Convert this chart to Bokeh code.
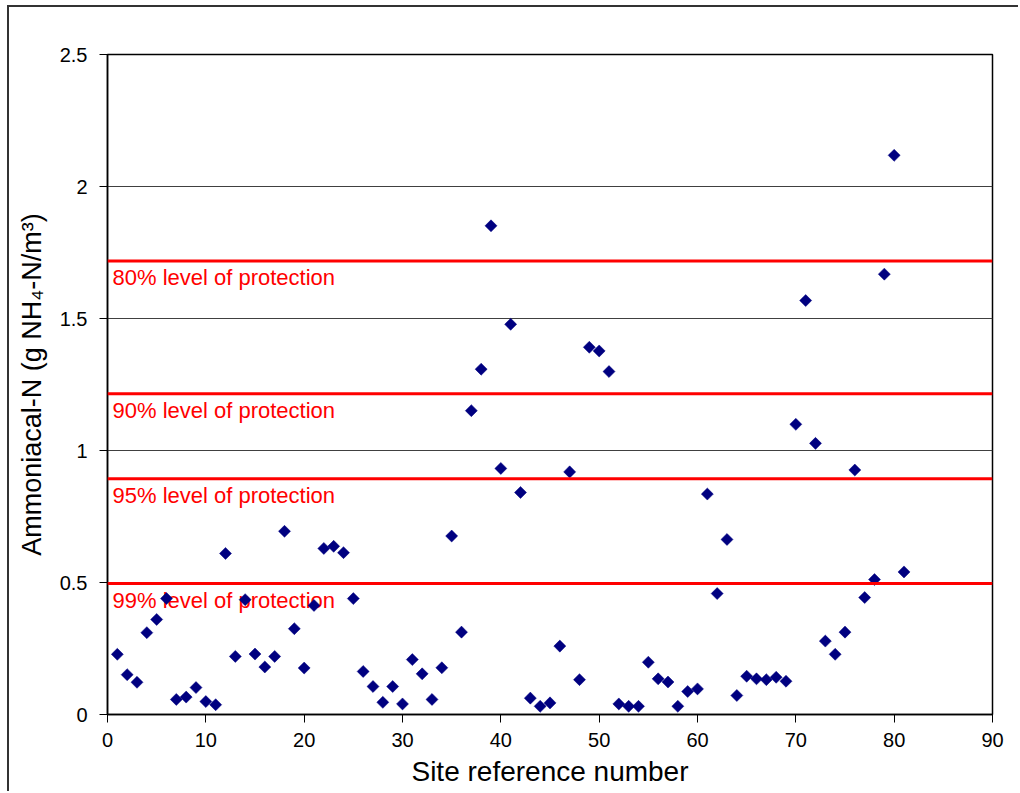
from bokeh.plotting import figure
from bokeh.models import Range1d, ColumnDataSource, Span, FixedTicker
from bokeh.core.properties import value
from bokeh.embed import file_html
from bokeh.resources import INLINE

# ---- data ----
site = list(range(1, 82))
ammoniacal_n = [
    0.228, 0.151, 0.122, 0.310, 0.360, 0.439, 0.057, 0.066, 0.102, 0.049,
    0.037, 0.610, 0.220, 0.435, 0.229, 0.180, 0.220, 0.694, 0.325, 0.176,
    0.413, 0.629, 0.637, 0.613, 0.439, 0.163, 0.106, 0.046, 0.106, 0.040,
    0.208, 0.154, 0.057, 0.177, 0.676, 0.312, 1.151, 1.308, 1.851, 0.932,
    1.478, 0.841, 0.062, 0.031, 0.044, 0.259, 0.919, 0.132, 1.391, 1.377,
    1.299, 0.040, 0.031, 0.031, 0.198, 0.135, 0.123, 0.031, 0.087, 0.097,
    0.835, 0.458, 0.663, 0.072, 0.145, 0.135, 0.132, 0.141, 0.126, 1.099,
    1.568, 1.027, 0.278, 0.228, 0.312, 0.926, 0.443, 0.511, 1.668, 2.118,
    0.540,
]
protection_labels = ["80% level of protection", "90% level of protection",
                     "95% level of protection", "99% level of protection"]
protection_values = [1.718, 1.215, 0.893, 0.496]
x_ticks = [0, 10, 20, 30, 40, 50, 60, 70, 80, 90]
y_ticks = [0, 0.5, 1, 1.5, 2, 2.5]

FONT = "Liberation Sans"

p = figure(width=1011, height=786, output_backend="svg", toolbar_location=None,
           x_range=Range1d(0, 90), y_range=Range1d(0, 2.5),
           min_border_left=98, min_border_right=28, min_border_top=47,
           min_border_bottom=79)
p.styles = {"margin-left": "9px", "margin-top": "7px",
            "box-shadow": "-2px -2px 0 0 #333333"}

p.outline_line_color = "black"
p.outline_line_width = 1.5
p.background_fill_color = "white"
p.border_fill_color = "white"

p.xgrid.grid_line_color = None
p.ygrid.grid_line_color = "#404040"
p.ygrid.grid_line_width = 1
p.ygrid.ticker = FixedTicker(ticks=y_ticks)

p.xaxis.ticker = FixedTicker(ticks=x_ticks)
p.yaxis.ticker = FixedTicker(ticks=y_ticks)
p.yaxis.formatter.use_scientific = False

for ax in (p.xaxis[0], p.yaxis[0]):
    ax.axis_line_color = "black"
    ax.axis_line_width = 1.5
    ax.major_tick_line_color = "black"
    ax.major_tick_in = 0
    ax.major_tick_out = 8
    ax.minor_tick_line_color = None
    ax.major_label_text_font = FONT
    ax.major_label_text_font_size = "20px"
    ax.major_label_text_color = "black"
    ax.axis_label_text_font = FONT
    ax.axis_label_text_font_style = "normal"
    ax.axis_label_text_color = "black"

p.xaxis.axis_label = "Site reference number"
p.yaxis.axis_label = "Ammoniacal-N (g NH\u2084-N/m\u00b3)"
p.xaxis.axis_label_text_font_size = "28px"
p.yaxis.axis_label_text_font_size = "27px"
p.xaxis.major_label_standoff = 10
p.yaxis.major_label_standoff = 12
p.xaxis.axis_label_standoff = 6
p.yaxis.axis_label_standoff = 10

# protection levels
for v in protection_values:
    p.add_layout(Span(location=v, dimension="width", line_color="#ff0000",
                      line_width=3))

lsrc = ColumnDataSource(dict(x=[0] * len(protection_values),
                             y=protection_values, t=protection_labels))
p.text(x="x", y="y", text="t", source=lsrc, x_offset=5, y_offset=17,
       text_baseline="alphabetic", text_align="left",
       text_font=value(FONT), text_font_size="22px", text_color="#ff0000")

src = ColumnDataSource(dict(x=site, y=ammoniacal_n))
p.scatter(x="x", y="y", source=src, marker="square", size=8.5,
          angle=0.785398, fill_color="#000080", line_color="#000080",
          line_width=0.5)

open("out.html", "w").write(file_html(p, INLINE))
